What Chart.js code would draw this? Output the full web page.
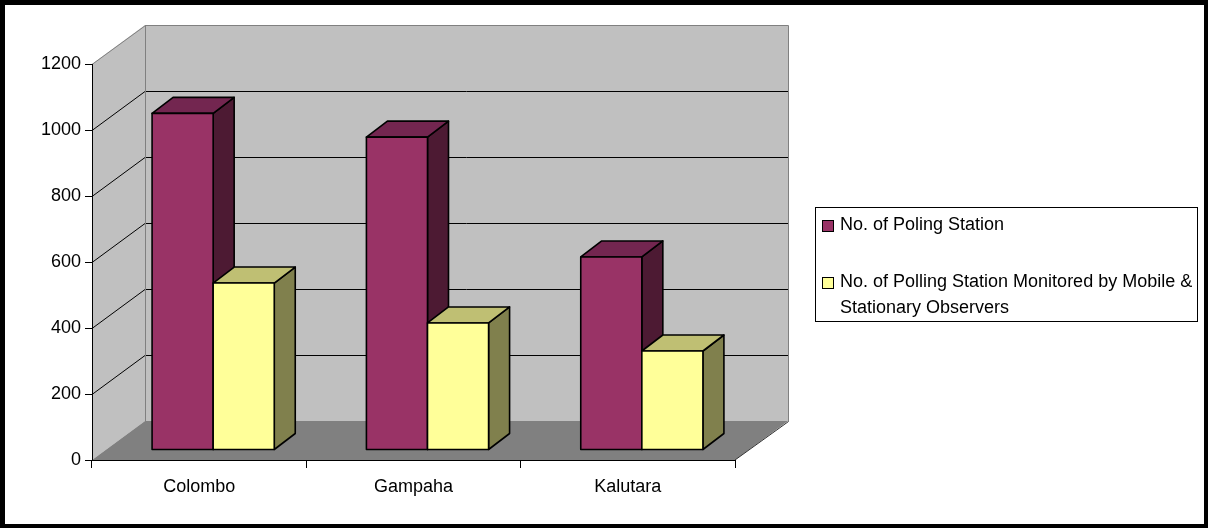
<!DOCTYPE html>
<html>
<head>
<meta charset="utf-8">
<script src="https://cdn.jsdelivr.net/npm/chart.js@4"></script>
<style>
  html, body { margin: 0; padding: 0; background: #fff; }
  #wrap { width: 1208px; height: 528px; position: relative; }
</style>
</head>
<body>
<div id="wrap"><canvas id="chart" width="1208" height="528"></canvas></div>
<script>
const districts = ['Colombo', 'Gampaha', 'Kalutara'];
const pollingStations = [1020, 948, 585];
const monitoredStations = [506, 385, 300];
const legendLines = [
  ['No. of Poling Station'],
  ['No. of Polling Station Monitored by Mobile &', 'Stationary Observers']
];
const yMax = 1200;
const yStep = 200;

const FONT = '"Liberation Sans", Arial, sans-serif';
// depth of the wall box and of the bars
const WALL_DX = 53, WALL_DY = -39;
const BAR_OX = 14, BAR_OY = -10;
const BAR_DX = 21, BAR_DY = -16;

const walls3d = {
  id: 'walls3d',
  beforeDraw(chart) {
    const ctx = chart.ctx;
    const a = chart.chartArea;
    const ys = chart.scales.y;
    const x0 = a.left, x1 = a.right;
    const yb = ys.getPixelForValue(0), yt = ys.getPixelForValue(yMax);
    ctx.save();
    ctx.fillStyle = '#fff';
    ctx.fillRect(0, 0, chart.width, chart.height);

    // back wall
    ctx.fillStyle = '#c0c0c0';
    ctx.fillRect(x0 + WALL_DX, yt + WALL_DY, x1 - x0, yb - yt);
    // side wall
    ctx.beginPath();
    ctx.moveTo(x0, yb); ctx.lineTo(x0, yt);
    ctx.lineTo(x0 + WALL_DX, yt + WALL_DY); ctx.lineTo(x0 + WALL_DX, yb + WALL_DY);
    ctx.closePath();
    ctx.fill();
    // floor
    ctx.fillStyle = '#808080';
    ctx.beginPath();
    ctx.moveTo(x0, yb); ctx.lineTo(x1, yb);
    ctx.lineTo(x1 + WALL_DX, yb + WALL_DY); ctx.lineTo(x0 + WALL_DX, yb + WALL_DY);
    ctx.closePath();
    ctx.fill();

    // gridlines
    ctx.lineWidth = 1;
    for (let v = yStep; v < yMax; v += yStep) {
      const yy = Math.round(ys.getPixelForValue(v)) + 0.5;
      ctx.strokeStyle = '#000';
      ctx.beginPath();
      ctx.moveTo(x0, yy);
      ctx.lineTo(x0 + WALL_DX, yy + WALL_DY);
      ctx.lineTo(x1 + WALL_DX, yy + WALL_DY);
      ctx.stroke();
    }
    // wall edges
    ctx.strokeStyle = '#808080';
    ctx.beginPath();
    ctx.moveTo(x0, yt + 0.5);
    ctx.lineTo(x0 + WALL_DX + 0.5, yt + WALL_DY + 0.5);
    ctx.lineTo(x1 + WALL_DX + 0.5, yt + WALL_DY + 0.5);
    ctx.lineTo(x1 + WALL_DX + 0.5, yb + WALL_DY + 0.5);
    ctx.moveTo(x0 + WALL_DX + 0.5, yt + WALL_DY);
    ctx.lineTo(x0 + WALL_DX + 0.5, yb + WALL_DY + 0.5);
    ctx.stroke();
    ctx.strokeStyle = '#333';
    ctx.beginPath();
    ctx.moveTo(x1, yb);
    ctx.lineTo(x1 + WALL_DX + 0.5, yb + WALL_DY + 0.5);
    ctx.stroke();
    ctx.restore();
  }
};

function drawBox(ctx, l, r, t, b, c) {
  ctx.fillStyle = c.side;
  ctx.beginPath();
  ctx.moveTo(r, t); ctx.lineTo(r + BAR_DX, t + BAR_DY);
  ctx.lineTo(r + BAR_DX, b + BAR_DY); ctx.lineTo(r, b);
  ctx.closePath(); ctx.fill(); ctx.stroke();
  ctx.fillStyle = c.top;
  ctx.beginPath();
  ctx.moveTo(l, t); ctx.lineTo(l + BAR_DX, t + BAR_DY);
  ctx.lineTo(r + BAR_DX, t + BAR_DY); ctx.lineTo(r, t);
  ctx.closePath(); ctx.fill(); ctx.stroke();
  ctx.fillStyle = c.front;
  ctx.beginPath();
  ctx.rect(l, t, r - l, b - t);
  ctx.fill(); ctx.stroke();
}

const bars3d = {
  id: 'bars3d',
  afterDatasetsDraw(chart) {
    const ctx = chart.ctx;
    ctx.save();
    ctx.strokeStyle = '#000';
    ctx.lineWidth = 1.6;
    ctx.lineJoin = 'round';
    districts.forEach((_, i) => {
      chart.data.datasets.forEach((ds, d) => {
        const el = chart.getDatasetMeta(d).data[i];
        const l = el.x - el.width / 2 + BAR_OX;
        const r = el.x + el.width / 2 + BAR_OX;
        drawBox(ctx, l, r, el.y + BAR_OY, el.base + BAR_OY, ds.faces);
      });
    });
    ctx.restore();
  }
};

const legendBox = {
  id: 'legendBox',
  afterDraw(chart) {
    const ctx = chart.ctx;
    ctx.save();
    ctx.lineWidth = 1;
    ctx.strokeStyle = '#000';
    ctx.strokeRect(815.5, 207.5, 382, 114);
    ctx.font = '18px ' + FONT;
    ctx.textBaseline = 'middle';
    ctx.fillStyle = '#000';
    const itemY = [225, 282];
    chart.data.datasets.forEach((ds, d) => {
      ctx.fillStyle = ds.faces.front;
      ctx.fillRect(822.5, itemY[d] - 4.5, 11, 11);
      ctx.strokeRect(822.5, itemY[d] - 4.5, 11, 11);
      ctx.fillStyle = '#000';
      legendLines[d].forEach((line, k) => {
        ctx.fillText(line, 840, itemY[d] + k * 26);
      });
    });
    // outer frame
    ctx.fillStyle = '#000';
    ctx.fillRect(0, 0, chart.width, 5);
    ctx.fillRect(0, chart.height - 4, chart.width, 4);
    ctx.fillRect(0, 0, 5, chart.height);
    ctx.fillRect(chart.width - 4, 0, 4, chart.height);
    ctx.restore();
  }
};

Chart.defaults.font.family = FONT;
Chart.defaults.font.size = 18;
Chart.defaults.color = '#000';

new Chart(document.getElementById('chart'), {
  type: 'bar',
  data: {
    labels: districts,
    datasets: [
      {
        label: legendLines[0].join(' '),
        data: pollingStations,
        backgroundColor: 'rgba(0,0,0,0)',
        borderWidth: 0,
        faces: { front: '#993366', top: '#732650', side: '#4d1a33' }
      },
      {
        label: legendLines[1].join(' '),
        data: monitoredStations,
        backgroundColor: 'rgba(0,0,0,0)',
        borderWidth: 0,
        faces: { front: '#ffff99', top: '#bfbf73', side: '#80804d' }
      }
    ]
  },
  options: {
    responsive: false,
    animation: false,
    devicePixelRatio: 1,
    layout: { padding: { left: 0, top: 64, right: 473, bottom: 0 } },
    plugins: { legend: { display: false }, tooltip: { enabled: false } },
    datasets: { bar: { categoryPercentage: 0.57, barPercentage: 1 } },
    scales: {
      x: {
        grid: { offset: true, drawOnChartArea: false, color: '#000', tickLength: 8 },
        border: { color: '#000', width: 1 },
        ticks: { padding: 8 },
        afterFit(s) { s.height = 68; }
      },
      y: {
        min: 0,
        max: yMax,
        ticks: { stepSize: yStep, padding: 4, callback: v => String(v) },
        grid: { drawOnChartArea: false, color: '#000', tickLength: 7 },
        border: { color: '#000', width: 1 },
        afterFit(s) { s.width = 92; }
      }
    }
  },
  plugins: [walls3d, bars3d, legendBox]
});
</script>
</body>
</html>
